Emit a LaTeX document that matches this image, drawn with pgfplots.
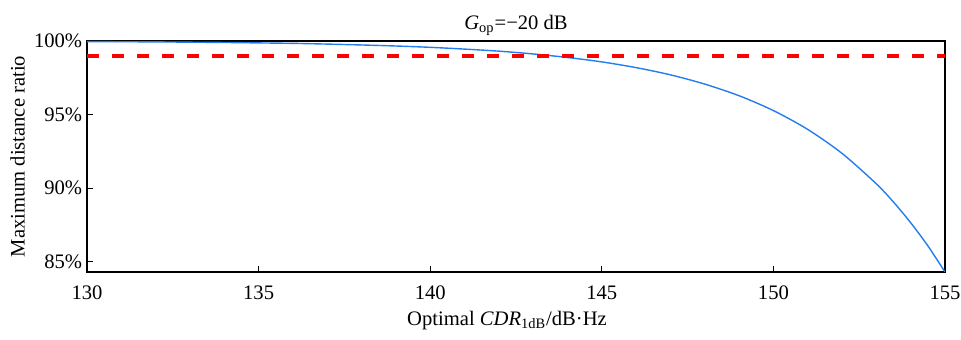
\documentclass[border=0pt]{standalone}
\usepackage{pgfplots}
\pgfplotsset{compat=1.18}
\usepackage{fontspec}
\setmainfont{Liberation Serif}
\definecolor{curveblue}{RGB}{36,125,240}
\begin{document}
\fontsize{10.3bp}{12bp}\selectfont
\begin{tikzpicture}
\begin{axis}[
  scale only axis,
  width=429bp, height=115.5bp,
  xmin=130, xmax=155, ymin=84.3, ymax=100,
  xtick={130,135,140,145,150,155},
  ytick={85,90,95,100},
  yticklabels={85\%,90\%,95\%,100\%},
  tick align=inside,
  xtick pos=bottom, ytick pos=left,
  major tick length=3bp,
  tick style={black, line width=0.6bp},
  axis line style={black, line width=0.8bp},
  /pgf/number format/assume math mode=true,
  tick label style={font=\fontsize{10.3bp}{12bp}\selectfont},
  xticklabel style={yshift=-3.5bp},
  yticklabel style={xshift=1.2bp},
  label style={font=\fontsize{10.3bp}{12bp}\selectfont},
  xlabel={Optimal \textit{CDR}\textsubscript{1dB}/dB·Hz},
  ylabel={Maximum distance ratio},
  xlabel style={yshift=1.5bp, xshift=-4.5bp},
  ylabel style={yshift=-2.5bp},
  title={\textit{G}\textsubscript{op}=−20 dB},
  title style={font=\fontsize{10.3bp}{12bp}\selectfont, yshift=-7bp},
]
\addplot[curveblue, line width=0.7bp, smooth] coordinates {
(130,99.96) (131,99.95) (132,99.94) (133,99.92) (134,99.90) (135,99.87)
(136,99.84) (137,99.79) (138,99.73) (139,99.66) (140,99.57) (141,99.45)
(142,99.31) (143,99.12) (144,98.88) (145,98.58) (146,98.19) (147,97.70)
(148,97.07) (149,96.28) (150,95.27) (151,93.99) (152,92.36) (153,90.29)
(153.5,89.05) (154,87.65) (154.5,86.08) (155,84.30)
};
\addplot[red, line width=2bp, dash pattern=on 6bp off 6.5bp] coordinates {(130,99) (155,99)};
\end{axis}
\pgfresetboundingbox
\path ([xshift=-43.5bp,yshift=-34bp]current axis.south west) rectangle ([xshift=8bp,yshift=20.5bp]current axis.north east);
\end{tikzpicture}
\end{document}
